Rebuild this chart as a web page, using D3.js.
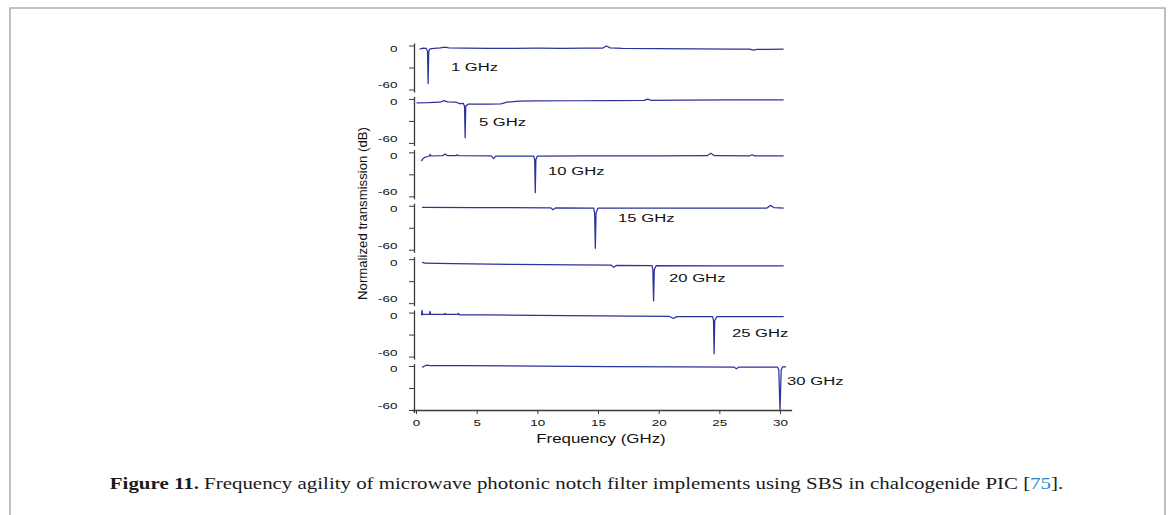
<!DOCTYPE html>
<html><head><meta charset="utf-8">
<script src="https://cdn.jsdelivr.net/npm/d3@7"></script>
<style>
html,body{margin:0;padding:0;background:#fff;}
svg{display:block;}
</style></head><body>
<svg id="chart" width="1168" height="515"></svg>
<script>
// ---------------- data ----------------
const panelLabels = ["1 GHz", "5 GHz", "10 GHz", "15 GHz", "20 GHz", "25 GHz", "30 GHz"];
const labelFreq = [2.88, 5.19, 10.88, 16.65, 20.85, 26.04, 30.58];   // GHz
const labelDb   = [-29, -31, -25, -17, -26, -28, -21];                 // dB
const xTickValues = [0, 5, 10, 15, 20, 25, 30];
const yTickValues = [0, -30, -60];
const yTickLabels = ["0", "", "-60"];
const xAxisTitle = "Frequency (GHz)";
const yAxisTitle = "Normalized transmission (dB)";

const trace1GHz = [[0.3,-5],[0.6,-3.5],[0.85,-4],[0.95,-8],[1.0,-52],[1.05,-8],[1.15,-4.5],[1.5,-3.8],[2.0,-3.2],[2.4,-2.2],[2.7,-3.3],[4,-3.6],[6,-3.8],[8,-3.8],[10,-3.6],[12,-3.8],[14,-3.6],[15.4,-3.5],[15.7,-0.6],[16.0,-3.2],[17,-3.8],[20,-4.2],[23,-4.5],[26,-4.8],[27.5,-5],[27.8,-6.2],[28.1,-5.3],[29,-5.2],[30.3,-5]];
const trace5GHz = [[0.05,-5.5],[1,-5.2],[2,-4.5],[2.3,-2.3],[2.6,-4],[3.3,-4.5],[3.6,-6.5],[3.9,-6],[4.0,-10],[4.05,-53],[4.1,-10],[4.3,-7],[5,-7],[6,-7.2],[7,-6.8],[7.5,-4.5],[8.5,-3],[10,-2.8],[13,-2.5],[16,-2.2],[18.8,-2],[19.1,-0.3],[19.4,-2],[22,-1.5],[26,-1.3],[30.3,-1.3]];
const trace10GHz = [[0.45,-12],[0.55,-9],[0.7,-7],[0.9,-6],[1.1,-5],[1.15,-2.8],[1.25,-5],[2.2,-4.5],[2.4,-2.3],[2.6,-4.5],[3.3,-4.5],[3.4,-3.3],[3.5,-4.6],[6.2,-4.8],[6.4,-8.5],[6.55,-5],[9.7,-5],[9.78,-10],[9.83,-55],[9.88,-10],[10,-5],[14,-4.8],[20,-4.8],[24.0,-4.6],[24.3,-1.3],[24.6,-4.6],[27.5,-4.7],[27.7,-3.3],[27.9,-4.8],[30.3,-4.8]];
const trace15GHz = [[0.5,-2.3],[5,-2.5],[11.1,-2.8],[11.3,-5.5],[11.5,-3],[14.65,-3.2],[14.72,-10],[14.78,-58],[14.84,-10],[15,-3.2],[20,-3.2],[25,-3.3],[28.9,-3.3],[29.2,0.5],[29.5,-2.5],[30.3,-3.3]];
const trace20GHz = [[0.5,-4],[0.7,-5.5],[3,-6.2],[8,-7],[13,-7.8],[16.1,-8.2],[16.3,-11],[16.5,-8.5],[19.45,-8.8],[19.52,-14],[19.58,-57],[19.64,-14],[19.8,-8.8],[25,-9],[30.3,-9]];
const trace25GHz = [[0.45,-4],[0.5,3],[0.55,-2.5],[1.1,-2.5],[1.15,1.5],[1.2,-2.5],[2.35,-2.5],[2.4,-1],[2.45,-2.5],[3.45,-2.6],[3.5,-1],[3.55,-3],[6,-3.2],[10,-3.8],[15,-4.5],[20.9,-5.3],[21.2,-8],[21.5,-5.5],[24.45,-5.6],[24.52,-11],[24.57,-56],[24.62,-11],[24.8,-5.6],[30.3,-5.6]];
const trace30GHz = [[0.5,-2],[0.7,0],[0.9,1.2],[1.2,0.5],[4,0.5],[10,-0.2],[16,-0.8],[22,-1.2],[26.2,-1.4],[26.4,-3.8],[26.6,-1.6],[29.8,-1.6],[29.9,-5],[30.0,-60],[30.1,-5],[30.2,-1.2],[30.5,-1.2]];
const traces = [trace1GHz, trace5GHz, trace10GHz, trace15GHz, trace20GHz, trace25GHz, trace30GHz];

const captionBold = "Figure 11.";
const captionText = " Frequency agility of microwave photonic notch filter implements using SBS in chalcogenide PIC [";
const captionRef = "75";
const captionEnd = "].";

// ---------------- layout ----------------
const svg = d3.select("#chart");
const W = 1168, H = 515;
const lineColor = "#2d3399";
const axisColor = "#3a3a3a";
const sansFont = "'Liberation Sans', Arial, Helvetica, sans-serif";

// frame
svg.append("path")
  .attr("d", `M10,${H+2} L10,8 L1165,8 L1165,${H+2}`)
  .attr("fill", "none").attr("stroke", "#b0b0b0").attr("stroke-width", 1.6);

const x = d3.scaleLinear().domain([0, 30]).range([416, 780]);
const panelZero = d3.scaleLinear().domain([0, panelLabels.length - 1]).range([45.5, 366]);
const panelH = 44;
const yAxisX = x(0) - 2;
const stretch = 1.45;
const tickLabelShift = {"0": 3, "": 0, "-60": -4.5};

const line = d3.line().x(d => x(d[0]));

panelLabels.forEach((lab, i) => {
  const top = panelZero(i);
  const y = d3.scaleLinear().domain([-60, 0]).range([top + panelH, top]);
  const ext = [-63.5, 3.5];
  const yAx = y.copy().domain(ext).range(ext.map(y));
  const g = svg.append("g").attr("transform", `translate(${yAxisX},0)`)
    .call(d3.axisLeft(yAx).tickValues(yTickValues)
      .tickFormat((d, k) => yTickLabels[k]).tickSize(5).tickSizeOuter(0).tickPadding(6.4));
  g.select(".domain").attr("stroke", axisColor).attr("stroke-width", 1.3);
  g.selectAll(".tick line").attr("stroke", axisColor).attr("stroke-width", 1);
  g.selectAll(".tick text")
    .attr("font-family", sansFont).attr("font-size", 9.3).attr("fill", "#111")
    .attr("y", function() { return tickLabelShift[this.textContent] || 0; })
    .attr("transform", `scale(${stretch},1)`);

  svg.append("path")
    .datum(traces[i])
    .attr("d", line.y(d => y(d[1])))
    .attr("fill", "none").attr("stroke", lineColor)
    .attr("stroke-width", 1.25).attr("stroke-linejoin", "round");

  svg.append("text")
    .attr("transform", `translate(${x(labelFreq[i])},${y(labelDb[i])}) scale(${stretch},1)`)
    .attr("dy", "0.35em")
    .attr("font-family", sansFont).attr("font-size", 11.5).attr("fill", "#111")
    .text(lab);
});

// x axis
const xBottom = panelZero(panelLabels.length - 1) + panelH;
const xExt = [-0.35, 30.96];
const xAx = x.copy().domain(xExt).range(xExt.map(x));
const gx = svg.append("g").attr("transform", `translate(0,${xBottom})`)
  .call(d3.axisBottom(xAx).tickValues(xTickValues).tickSize(4).tickSizeOuter(0).tickPadding(5));
gx.select(".domain").attr("stroke", axisColor).attr("stroke-width", 1.3);
gx.selectAll(".tick line").attr("stroke", axisColor);
gx.selectAll(".tick text")
  .attr("font-family", sansFont).attr("font-size", 9.3).attr("fill", "#111")
  .attr("transform", `scale(${stretch},1)`);

svg.append("text")
  .attr("transform", `translate(${x(15) + 3},442.7) scale(1.3,1)`)
  .attr("text-anchor", "middle")
  .attr("font-family", sansFont).attr("font-size", 13).attr("fill", "#111")
  .text(xAxisTitle);

svg.append("text")
  .attr("transform", `translate(367,213.5) rotate(-90)`)
  .attr("text-anchor", "middle")
  .attr("font-family", sansFont).attr("font-size", 13.2).attr("fill", "#111")
  .text(yAxisTitle);

// caption
const cap = svg.append("text")
  .attr("transform", `translate(586.5,489) scale(1.23,1)`)
  .attr("text-anchor", "middle")
  .attr("font-family", "'Liberation Serif', 'Times New Roman', serif")
  .attr("font-size", 17).attr("fill", "#1a1a1a");
cap.append("tspan").attr("font-weight", "bold").text(captionBold);
cap.append("tspan").text(captionText);
cap.append("tspan").attr("fill", "#2a86c4").text(captionRef);
cap.append("tspan").text(captionEnd);
</script>
</body></html>
